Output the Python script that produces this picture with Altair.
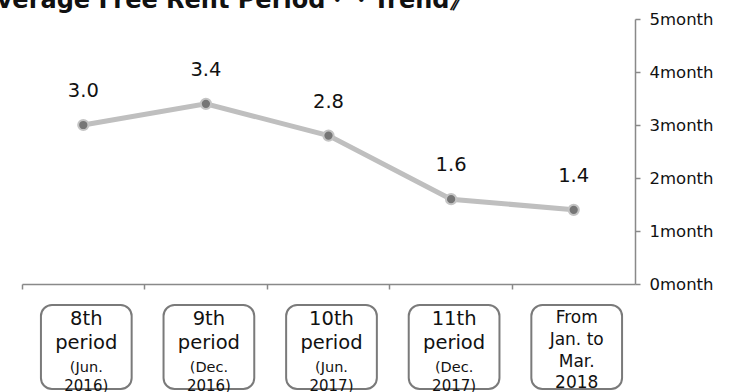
import altair as alt
import pandas as pd

# ---- data ----
periods = ["8th period (Jun. 2016)", "9th period (Dec. 2016)", "10th period (Jun. 2017)",
           "11th period (Dec. 2017)", "From Jan. to Mar. 2018"]
months = [3.0, 3.4, 2.8, 1.6, 1.4]
label_lines = [
    ["8th", "period", "(Jun.", "2016)"],
    ["9th", "period", "(Dec.", "2016)"],
    ["10th", "period", "(Jun.", "2017)"],
    ["11th", "period", "(Dec.", "2017)"],
    ["From", "Jan. to", "Mar.", "2018"],
]
y_ticks = [0, 1, 2, 3, 4, 5]
title_text = ["《Average Free Rent Period・・Trend》"]

# ---- layout (pixels) ----
W, H = 613, 265
PAD = {"left": 22, "top": 19, "right": 103, "bottom": 108}
period_line_y = [306, 330, 353, 372]     # baselines relative to plot top
period_line_size = [19.5, 19.5, 14.5, 15]
last_line_y = [304, 326, 348, 369]
last_line_size = [17, 17, 17, 17]

FONT = "DejaVu Sans"
GREY = "#898989"

df = pd.DataFrame({"period": periods, "months": months,
                   "label": [f"{m:.1f}" for m in months]})

rows = []
for i, (p, lines) in enumerate(zip(periods, label_lines)):
    ys = last_line_y if i == len(periods) - 1 else period_line_y
    ss = last_line_size if i == len(periods) - 1 else period_line_size
    for j, t in enumerate(lines):
        rows.append({"period": p, "text": t, "ypix": ys[j], "size": ss[j]})
lab = pd.DataFrame(rows)

xenc = alt.X("period:N", sort=periods,
             scale=alt.Scale(paddingInner=0, paddingOuter=0),
             axis=alt.Axis(labels=False, title=None, bandPosition=0, tickSize=5,
                           domainColor=GREY, tickColor=GREY, domainWidth=1.5, tickWidth=1.5))
yenc = alt.Y("months:Q", scale=alt.Scale(domain=[0, 5]),
             axis=alt.Axis(orient="right", values=y_ticks, title=None, grid=False,
                           labelExpr="datum.value + 'month'", labelFontSize=16.5,
                           labelFont=FONT, labelColor="#111", labelPadding=9,
                           tickSize=5, domainColor=GREY, tickColor=GREY,
                           domainWidth=1.5, tickWidth=1.5))

base = alt.Chart(df)
line = base.mark_line(color="#bfbfbf", strokeWidth=5).encode(x=xenc, y=yenc)
pts = base.mark_point(filled=True, fill="#767676", stroke="#c4c4c4", strokeWidth=2,
                      size=105, opacity=1).encode(x=xenc, y=yenc)
txt = base.mark_text(baseline="alphabetic", dy=-28, fontSize=19.5, font=FONT,
                     color="#111").encode(x=xenc, y=yenc, text="label:N")

main = alt.layer(line, pts, txt)

boxes = alt.Chart(df).mark_bar(width={"band": 0.74}, cornerRadius=11, fill="white",
                               stroke="#7a7a7a", strokeWidth=2).encode(
    x=alt.X("period:N", sort=periods), xOffset=alt.value(3),
    y=alt.value(286), y2=alt.value(370))
boxtext = alt.Chart(lab).mark_text(baseline="alphabetic", font=FONT, color="#111",
                                   dx=3).encode(
    x=alt.X("period:N", sort=periods),
    y=alt.Y("ypix:Q", scale=alt.Scale(domain=[0, 100], range=[0, 100]), axis=None),
    text="text:N",
    size=alt.Size("size:Q", scale=None, legend=None),
)

title = alt.Chart(pd.DataFrame({"t": title_text})).mark_text(
    align="left", baseline="alphabetic", font=FONT, fontSize=24, fontWeight="bold",
    color="#111").encode(x=alt.value(-67), y=alt.value(-11.5), text="t:N")

chart = alt.layer(main, boxes, boxtext, title).resolve_scale(y="independent").properties(
    width=W, height=H,
    autosize=alt.AutoSizeParams(type="none"),
    padding=PAD,
).configure_view(stroke=None)

chart.save("out.html", embed_options={"renderer": "svg", "actions": False})
